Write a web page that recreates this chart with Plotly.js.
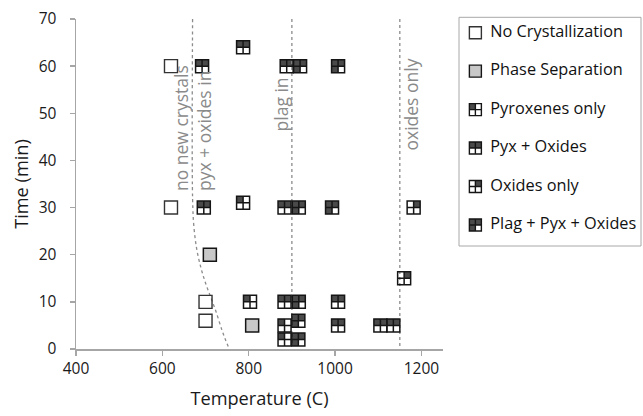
<!DOCTYPE html>
<html><head><meta charset="utf-8">
<script src="https://cdn.plot.ly/plotly-3.0.1.min.js"></script>
<style>body{margin:0;background:#fff}#chart{width:643px;height:416px}</style>
</head><body><div id="chart"></div>
<script>
// ---------------- data ----------------
const categories = ["No Crystallization","Phase Separation","Pyroxenes only","Pyx + Oxides","Oxides only","Plag + Pyx + Oxides"];

const noCrystTemp = [620, 620, 700, 700];
const noCrystTime = [60, 30, 10, 6];

const phaseSepTemp = [710, 808];
const phaseSepTime = [20, 5];

const pyxOnlyTemp = [787, 803, 883, 883];
const pyxOnlyTime = [31, 10, 5, 2];

const pyxOxTemp = [692, 696, 787, 888, 883, 883, 1007, 1007, 1105, 1135];
const pyxOxTime = [60, 30, 64, 60, 30, 10, 10, 5, 5, 5];

const oxOnlyTemp = [1160, 1182];
const oxOnlyTime = [15, 30];

const plagTemp = [919, 1007, 916, 993, 916, 915, 915];
const plagTime = [60, 60, 30, 30, 10, 6, 2];

// phase boundaries
const boundaryLabels = ["no new crystals", "pyx + oxides in", "plag in", "oxides only"];
const pyxBoundaryTemp = [670, 670, 673, 680, 690, 700, 712, 724, 738, 746, 755];
const pyxBoundaryTime = [70, 32, 26, 21, 17, 14, 11, 8, 4, 2, 0];
const plagBoundaryTemp = [900, 900];
const plagBoundaryTime = [70, 0];
const oxBoundaryTemp = [1150, 1150];
const oxBoundaryTime = [70, 0];

const xTickVals = [400, 600, 800, 1000, 1200];
const yTickVals = [0, 10, 20, 30, 40, 50, 60, 70];

// ---------------- style ----------------
const FONT = "Open Sans, Lato, sans-serif";
const DARK = "#4a4a4a";
const OUT = "#151515";
// quadrant fill per category [TL, TR, BL, BR]
const quad = {
  "Pyroxenes only": [1,0,0,0],
  "Pyx + Oxides": [1,1,0,0],
  "Oxides only": [0,1,0,0],
  "Plag + Pyx + Oxides": [1,1,1,0]
};
const W = 643, H = 416, mL = 76, mR = 2, mT = 17, mB = 67;
const plotW = W - mL - mR, plotH = H - mT - mB;
const mainW = 367, mainH = 330;
const legL = 459, legR = 641, legT = 17.3, legB = 246;

const shapes = [];
function quadShapes(cat, xs, ys, xref, yref, half) {
  const q = quad[cat];
  const off = [[-half,0,0,half],[0,half,0,half],[-half,0,-half,0],[0,half,-half,0]];
  xs.forEach((x, i) => {
    q.forEach((f, k) => {
      if (!f) return;
      const o = off[k];
      shapes.push({type:"rect", xref, yref, xsizemode:"pixel", ysizemode:"pixel",
        xanchor:x, yanchor:ys[i], x0:o[0], x1:o[1], y0:o[2], y1:o[3],
        fillcolor:DARK, line:{width:0}, layer:"below"});
    });
  });
}
const MS = 13, MSL = 12;
quadShapes("Pyroxenes only", pyxOnlyTemp, pyxOnlyTime, "x", "y", MS/2);
quadShapes("Pyx + Oxides", pyxOxTemp, pyxOxTime, "x", "y", MS/2);
quadShapes("Oxides only", oxOnlyTemp, oxOnlyTime, "x", "y", MS/2);
quadShapes("Plag + Pyx + Oxides", plagTemp, plagTime, "x", "y", MS/2);

// legend positions (on hidden axes x2/y2)
const legY = categories.map((c, i) => categories.length - 1 - i);
const legMarkX = 0.09, legTextX = 0.172;
categories.forEach((c, i) => {
  if (quad[c]) quadShapes(c, [legMarkX], [legY[i]], "x2", "y2", MSL/2);
});
shapes.push({type:"rect", xref:"x2 domain", yref:"y2 domain", x0:0, x1:1, y0:0, y1:1,
  line:{color:"#a8a8a8", width:1}, fillcolor:"rgba(0,0,0,0)", layer:"above"});

const dotLine = {color:"#8c8c8c", width:1.3, dash:"dot"};
const traces = [
  {x:pyxBoundaryTemp, y:pyxBoundaryTime, mode:"lines", line:Object.assign({shape:"spline"}, dotLine), hoverinfo:"skip"},
  {x:plagBoundaryTemp, y:plagBoundaryTime, mode:"lines", line:dotLine, hoverinfo:"skip"},
  {x:oxBoundaryTemp, y:oxBoundaryTime, mode:"lines", line:dotLine, hoverinfo:"skip"},
  {x:noCrystTemp, y:noCrystTime, mode:"markers", name:categories[0],
    marker:{symbol:"square-open", size:MS, color:"#333", line:{width:1.4}}},
  {x:phaseSepTemp, y:phaseSepTime, mode:"markers", name:categories[1],
    marker:{symbol:"square", size:MS, color:"#c8c8c8", line:{width:1.5, color:OUT}}},
  {x:pyxOnlyTemp, y:pyxOnlyTime, mode:"markers", name:categories[2],
    marker:{symbol:"square-cross-open", size:MS, color:OUT, line:{width:1.5}}},
  {x:pyxOxTemp, y:pyxOxTime, mode:"markers", name:categories[3],
    marker:{symbol:"square-cross-open", size:MS, color:OUT, line:{width:1.5}}},
  {x:oxOnlyTemp, y:oxOnlyTime, mode:"markers", name:categories[4],
    marker:{symbol:"square-cross-open", size:MS, color:OUT, line:{width:1.5}}},
  {x:plagTemp, y:plagTime, mode:"markers", name:categories[5],
    marker:{symbol:"square-cross-open", size:MS, color:OUT, line:{width:1.5}}},
  // legend
  {x:categories.map(()=>legMarkX), y:legY, xaxis:"x2", yaxis:"y2", mode:"markers",
    marker:{symbol:["square-open","square","square-cross-open","square-cross-open","square-cross-open","square-cross-open"],
      size:MSL, color:["#333","#c8c8c8",OUT,OUT,OUT,OUT], line:{width:1.4, color:OUT}}, hoverinfo:"skip"},
  {x:categories.map(()=>legTextX), y:legY, xaxis:"x2", yaxis:"y2", mode:"text", text:categories,
    textposition:"middle right", textfont:{family:FONT, size:16.3, color:"#111"}, hoverinfo:"skip"}
];

const annFont = {family:FONT, size:17.5, color:"#8a8a8a"};
const annotations = [
  {x:670, y:33, xref:"x", yref:"y", text:boundaryLabels[0], textangle:-90, xanchor:"right", yanchor:"bottom", showarrow:false, font:annFont, xshift:3},
  {x:670, y:33, xref:"x", yref:"y", text:boundaryLabels[1], textangle:-90, xanchor:"left", yanchor:"bottom", showarrow:false, font:annFont, xshift:-2},
  {x:900, y:58, xref:"x", yref:"y", text:boundaryLabels[2], textangle:-90, xanchor:"right", yanchor:"top", showarrow:false, font:annFont, xshift:3},
  {x:1150, y:62, xref:"x", yref:"y", text:boundaryLabels[3], textangle:-90, xanchor:"left", yanchor:"top", showarrow:false, font:annFont, xshift:-3}
];

const axisCommon = {showline:true, linecolor:"#a6a6a6", linewidth:1.5, ticks:"outside", ticklen:5,
  tickcolor:"#a6a6a6", tickwidth:1.5, showgrid:false, zeroline:false,
  tickfont:{family:FONT, size:15.5, color:"#1a1a1a"}};

const layout = {
  width:W, height:H, margin:{l:mL, r:mR, t:mT, b:mB},
  paper_bgcolor:"#fff", plot_bgcolor:"#fff", showlegend:false,
  font:{family:FONT},
  xaxis:Object.assign({}, axisCommon, {range:[400,1250], domain:[0, mainW/plotW], tickvals:xTickVals,
    title:{text:"Temperature (C)", font:{family:FONT, size:18.2, color:"#1a1a1a"}, standoff:14}}),
  yaxis:Object.assign({}, axisCommon, {range:[0,70], domain:[0, mainH/plotH], tickvals:yTickVals,
    ticklabelstandoff:10,
    title:{text:"Time (min)", font:{family:FONT, size:18.2, color:"#1a1a1a"}, standoff:5}}),
  xaxis2:{visible:false, range:[0,1], domain:[(legL-mL)/plotW, (legR-mL)/plotW], anchor:"y2", fixedrange:true},
  yaxis2:{visible:false, range:[-0.546, 5.4], domain:[(H-mB-legB)/plotH, (H-mB-legT)/plotH], anchor:"x2", fixedrange:true},
  shapes, annotations
};
Plotly.newPlot("chart", traces, layout, {staticPlot:true, displayModeBar:false});
</script></body></html>
